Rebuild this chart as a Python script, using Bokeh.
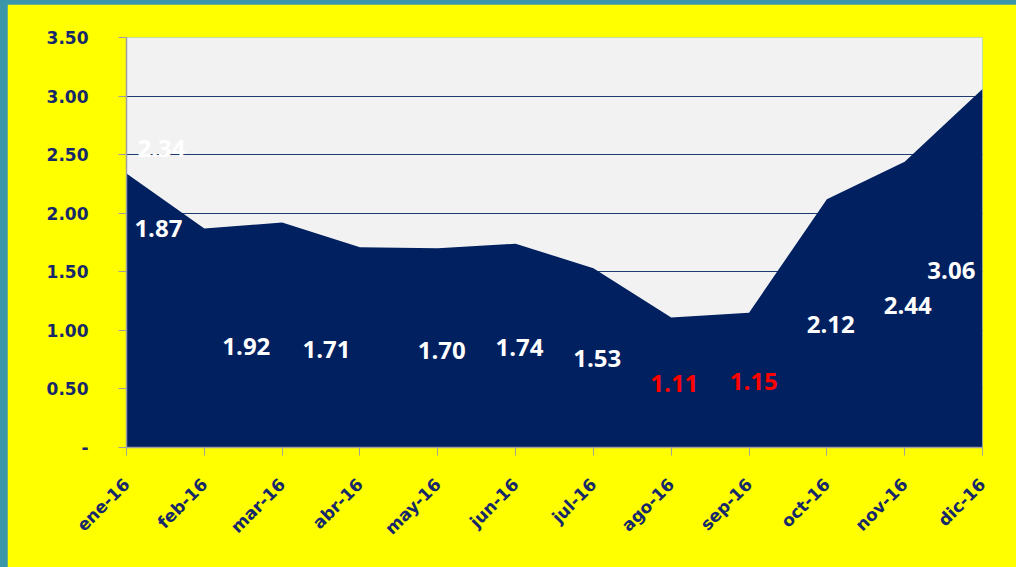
from bokeh.plotting import figure
from bokeh.models import FixedTicker, Range1d, ColumnDataSource
from bokeh.core.properties import value
from bokeh.embed import file_html
from bokeh.resources import INLINE

# ---- data ----
months = ["ene-16", "feb-16", "mar-16", "abr-16", "may-16", "jun-16",
          "jul-16", "ago-16", "sep-16", "oct-16", "nov-16", "dic-16"]
values = [2.34, 1.87, 1.92, 1.71, 1.70, 1.74, 1.53, 1.11, 1.15, 2.12, 2.44, 3.06]
label_texts = ["2.34", "1.87", "1.92", "1.71", "1.70", "1.74", "1.53",
               "1.11", "1.15", "2.12", "2.44", "3.06"]
y_ticks = [0, 0.5, 1.0, 1.5, 2.0, 2.5, 3.0, 3.5]
y_tick_labels = ["-", "0.50", "1.00", "1.50", "2.00", "2.50", "3.00", "3.50"]

# label placement (data units, as placed by hand in the original chart)
label_x = [0.45, 0.41, 1.54, 2.57, 4.05, 5.05, 6.05, 7.04, 8.06, 9.05, 10.04, 10.6]
label_y = [2.55, 1.87, 0.86, 0.84, 0.83, 0.85, 0.76, 0.55, 0.56, 1.05, 1.21, 1.51]
label_colors = ["white"] * 7 + ["#ff0000", "#ff0000"] + ["white"] * 3

idx = list(range(len(months)))

NAVY = "#002060"
TXT = "#16286a"

p = figure(width=1009, height=563, output_backend="svg", toolbar_location=None,
           x_range=Range1d(0, len(months) - 1), y_range=Range1d(0, 3.5),
           min_border_left=119, min_border_right=34, min_border_top=33,
           min_border_bottom=120)
p.background_fill_color = "#f2f2f2"
p.border_fill_color = "#ffff00"
p.outline_line_color = None

p.varea(x=idx, y1=[0] * len(idx), y2=values, fill_color=NAVY)

src = ColumnDataSource(dict(x=label_x, y=label_y, t=label_texts, c=label_colors))
p.text(x="x", y="y", text="t", source=src, text_color="c",
       text_font=value("Open Sans"), text_font_style="bold",
       text_font_size="24px", text_align="center", text_baseline="middle")

# y axis
p.yaxis.ticker = FixedTicker(ticks=y_ticks)
p.yaxis.major_label_overrides = {t: l for t, l in zip(y_ticks, y_tick_labels)}
p.yaxis.minor_tick_line_color = None
p.yaxis.axis_line_color = "#a0a0a0"
p.yaxis.axis_line_width = 1.5
p.yaxis.major_tick_line_color = "#a0a0a0"
p.yaxis.major_tick_out = 8
p.yaxis.major_tick_in = 0
p.yaxis.major_label_standoff = 30
p.yaxis.major_label_text_font = "DejaVu Sans"
p.yaxis.major_label_text_font_style = "bold"
p.yaxis.major_label_text_font_size = "17px"
p.yaxis.major_label_text_color = TXT

# x axis
p.xaxis.ticker = FixedTicker(ticks=idx)
p.xaxis.major_label_overrides = {i: m for i, m in zip(idx, months)}
p.xaxis.minor_tick_line_color = None
p.xaxis.axis_line_color = "#a0a0a0"
p.xaxis.axis_line_width = 1.5
p.xaxis.major_tick_line_color = "#a0a0a0"
p.xaxis.major_tick_out = 8
p.xaxis.major_tick_in = 0
p.xaxis.major_label_orientation = 0.785398
p.xaxis.major_label_standoff = 26
p.xaxis.major_label_text_font = "DejaVu Sans"
p.xaxis.major_label_text_font_style = "bold"
p.xaxis.major_label_text_font_size = "17px"
p.xaxis.major_label_text_color = TXT

p.xgrid.grid_line_color = None
p.ygrid.ticker = FixedTicker(ticks=y_ticks[1:])
p.ygrid.grid_line_color = "#1f3a70"
p.ygrid.grid_line_width = 1.2

html = file_html(p, INLINE)
html = html.replace(
    "</head>",
    "<style>html, body { background: #3a96a8 !important; } "
    "body { padding: 4px 0 0 7px !important; overflow: hidden; }</style></head>", 1)
open("out.html", "w").write(html)
